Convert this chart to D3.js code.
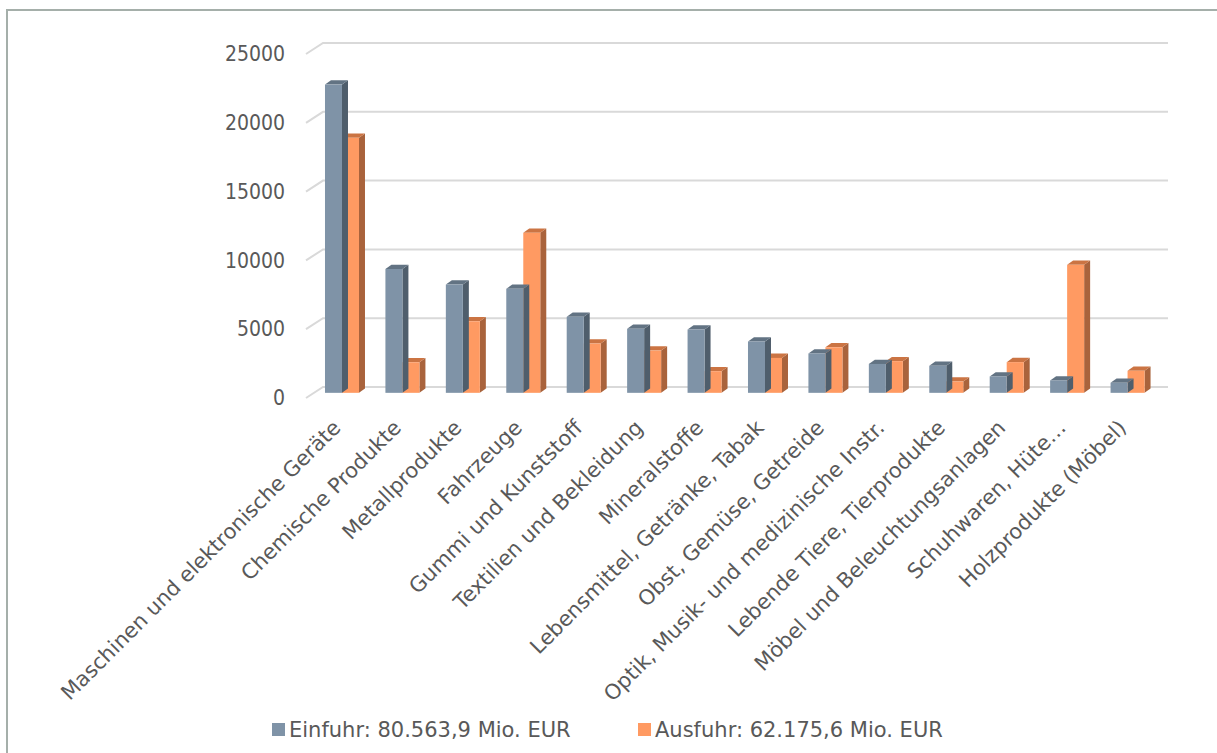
<!DOCTYPE html>
<html>
<head>
<meta charset="utf-8">
<script src="https://cdn.jsdelivr.net/npm/d3@7"></script>
<style>
  html, body { margin: 0; padding: 0; background: #fff; }
  svg text { font-family: "DejaVu Sans", sans-serif; fill: #595959; }
  svg .y-axis text { font-family: "DejaVu Sans Condensed", "DejaVu Sans", sans-serif; font-stretch: condensed; }
</style>
</head>
<body>
<svg id="chart" width="1217" height="753"></svg>
<script>
// Warengruppen (Einfuhr / Ausfuhr, Mio. EUR)
const categories = [
  "Maschinen und elektronische Geräte",
  "Chemische Produkte",
  "Metallprodukte",
  "Fahrzeuge",
  "Gummi und Kunststoff",
  "Textilien und Bekleidung",
  "Mineralstoffe",
  "Lebensmittel, Getränke, Tabak",
  "Obst, Gemüse, Getreide",
  "Optik, Musik- und medizinische Instr.",
  "Lebende Tiere, Tierprodukte",
  "Möbel und Beleuchtungsanlagen",
  "Schuhwaren, Hüte…",
  "Holzprodukte (Möbel)"
];
const einfuhr = [22400, 9000, 7870, 7560, 5520, 4650, 4600, 3730, 2860, 2100, 1960, 1190, 900, 730];
const ausfuhr = [18530, 2220, 5200, 11630, 3580, 3070, 1570, 2540, 3310, 2300, 820, 2230, 9300, 1600];
const yTicks = [0, 5000, 10000, 15000, 20000, 25000];
const seriesNames = ["Einfuhr: 80.563,9 Mio. EUR", "Ausfuhr: 62.175,6 Mio. EUR"];

const svg = d3.select("#chart");

// Pseudo-3D geometry: floor depth runs from front edge to back wall
const DEPTH_X = 17, DEPTH_Y = -11;      // front -> back wall offset
const BAR_DEPTH = 0.47;                  // bars stand mid-way into the floor
const BAR_DX = 6, BAR_DY = -4.3;         // visible thickness of a bar

const yFront = d3.scaleLinear().domain([0, 25000]).range([398, 54]);
const x = d3.scaleBand().domain(categories).range([306, 1152]).padding(0);

const colors = {
  ein: { front: "#7F93A7", side: "#4F5E6C", top: "#627383" },
  aus: { front: "#FF9A62", side: "#A9633C", top: "#CB7443" }
};

// chart frame
svg.append("rect")
  .attr("x", 7).attr("y", 10).attr("width", 1240).attr("height", 780)
  .attr("fill", "none").attr("stroke", "#A5AFAA").attr("stroke-width", 2);

// gridlines: short diagonal on the floor edge, then along the back wall
const grid = svg.append("g");
yTicks.forEach(v => {
  const y0 = yFront(v);
  grid.append("path")
    .attr("d", `M306,${y0}L${306 + DEPTH_X},${y0 + DEPTH_Y}L1168,${y0 + DEPTH_Y}`)
    .attr("fill", "none").attr("stroke", "#D9D9D9").attr("stroke-width", 2);
});

// value axis labels
const yAxis = svg.append("g")
  .attr("class", "y-axis")
  .attr("transform", "translate(285,0)")
  .call(d3.axisLeft(yFront).tickValues(yTicks).tickSize(0).tickPadding(0).tickFormat(d3.format("d")));
yAxis.select(".domain").remove();
yAxis.selectAll("text")
  .style("font-size", "21px")
  .style("font-family", null)
  .attr("fill", "#595959");

// bars
const bx = DEPTH_X * BAR_DEPTH, by = DEPTH_Y * BAR_DEPTH;
const barW = 17, barOffset = 11;

function drawBar(g, x0, v, c) {
  const base = yFront(0) + by;
  const top = yFront(v) + by;
  const xl = x0 + bx;
  // side face
  g.append("path")
    .attr("d", `M${xl + barW},${base}L${xl + barW + BAR_DX},${base + BAR_DY}L${xl + barW + BAR_DX},${top + BAR_DY}L${xl + barW},${top}Z`)
    .attr("fill", c.side);
  // top face
  g.append("path")
    .attr("d", `M${xl},${top}L${xl + BAR_DX},${top + BAR_DY}L${xl + barW + BAR_DX},${top + BAR_DY}L${xl + barW},${top}Z`)
    .attr("fill", c.top);
  // front face
  g.append("rect")
    .attr("x", xl).attr("y", top).attr("width", barW).attr("height", base - top)
    .attr("fill", c.front);
}

const bars = svg.append("g");
categories.forEach((cat, i) => {
  const g = bars.append("g");
  const x0 = x(cat) + barOffset;
  drawBar(g, x0 + barW, ausfuhr[i], colors.aus);
  drawBar(g, x0, einfuhr[i], colors.ein);
});

// category axis with rotated labels
const xAxis = svg.append("g")
  .attr("transform", "translate(0,429)")
  .call(d3.axisBottom(x).tickSize(0).tickPadding(0));
xAxis.select(".domain").remove();
xAxis.selectAll(".tick").attr("transform", d => `translate(${x(d) + bx + barOffset + barW},0)`);
xAxis.selectAll("text")
  .attr("y", 0).attr("dy", 0).attr("x", 0)
  .attr("text-anchor", "end")
  .attr("transform", "rotate(-45)")
  .style("font-size", "21px")
  .style("font-family", null)
  .attr("fill", "#595959");

// legend
const legend = svg.append("g");
const legendX = [272, 638];
[colors.ein, colors.aus].forEach((c, i) => {
  legend.append("rect")
    .attr("x", legendX[i]).attr("y", 723).attr("width", 13).attr("height", 13)
    .attr("fill", c.front);
  legend.append("text")
    .attr("x", legendX[i] + 17).attr("y", 737)
    .style("font-size", "21px")
    .text(seriesNames[i]);
});
</script>
</body>
</html>
